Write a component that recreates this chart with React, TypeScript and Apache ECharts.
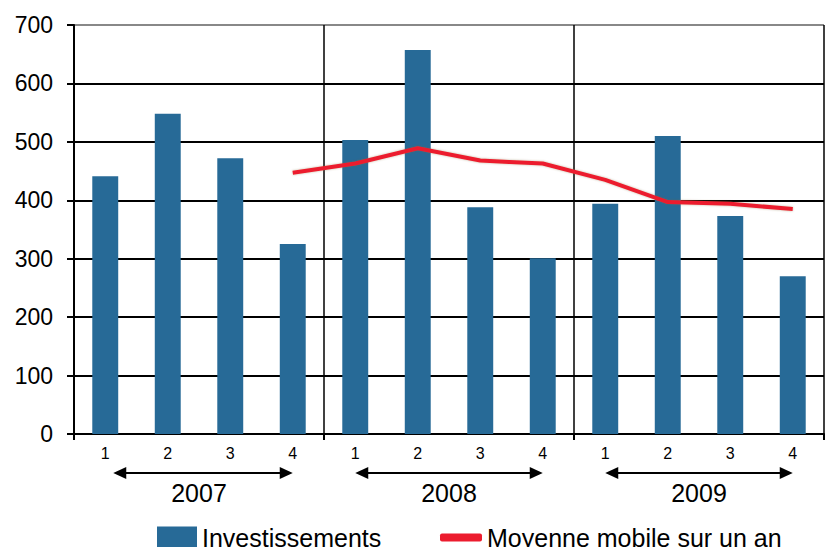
import React, { useEffect, useRef } from "react";
import * as echarts from "echarts";

const quarters = ["1", "2", "3", "4", "1", "2", "3", "4", "1", "2", "3", "4"];
const years = ["2007", "2008", "2009"];
const investissements = [441, 548, 472, 325, 503, 657, 388, 301, 394, 510, 373, 270];
const moyenneMobile = [null, null, null, 447, 463, 489, 468, 463, 435, 397, 394, 385];
const yTicks = { min: 0, max: 700, interval: 100 };

const FONT = "Liberation Sans, Arial, sans-serif";

export default function App() {
  const ref = useRef<HTMLDivElement>(null);
  useEffect(() => {
    const chart = echarts.init(ref.current!, null, { renderer: "svg" });
    const option: any = {
      animation: false,
      textStyle: { fontFamily: FONT, color: "#000" },
      grid: { left: 74, top: 25, right: 1, bottom: 113 },
      xAxis: [
        {
          type: "category",
          data: quarters,
          position: "bottom",
          axisLine: { show: false },
          axisTick: { show: false },
          axisLabel: { fontSize: 16, color: "#000", margin: 11, fontFamily: FONT, interval: 0 },
          splitLine: { show: false },
        },
        {
          type: "category",
          data: years,
          position: "bottom",
          axisLine: { show: true, lineStyle: { color: "#000", width: 2 } },
          axisTick: { show: true, length: 6, lineStyle: { color: "#000", width: 2 } },
          axisLabel: { fontSize: 25, color: "#000", margin: 46, fontFamily: FONT },
          splitLine: { show: true, lineStyle: { color: "#000", width: 1.5 } },
        },
      ],
      yAxis: {
        type: "value",
        min: yTicks.min,
        max: yTicks.max,
        interval: yTicks.interval,
        axisLine: { show: true, lineStyle: { color: "#000", width: 2 } },
        axisTick: { show: true, length: 7, lineStyle: { color: "#000", width: 2 } },
        axisLabel: { fontSize: 23, color: "#000", margin: 21, fontFamily: FONT },
        splitLine: {
          show: true,
          lineStyle: {
            color: ["#000", "#000", "#000", "#000", "#000", "#000", "#000", "#888"],
            width: 1.8,
          },
        },
      },
      legend: [
        {
          data: [{ name: "Investissements", icon: "rect" }],
          left: 157,
          top: 525,
          itemWidth: 40,
          itemHeight: 22,
          itemGap: 5,
          textStyle: { fontSize: 25, color: "#000", fontFamily: FONT },
          padding: 0,
        },
        {
          data: [{ name: "Moyenne mobile sur un an", icon: "roundRect" }],
          left: 440,
          top: 525,
          itemWidth: 42,
          itemHeight: 8,
          textStyle: { fontSize: 25, color: "#000", fontFamily: FONT },
          padding: 0,
        },
      ],
      series: [
        {
          name: "Investissements",
          type: "bar",
          xAxisIndex: 0,
          data: investissements,
          barWidth: "41.5%",
          itemStyle: { color: "#276a97" },
        },
        {
          name: "Moyenne mobile sur un an",
          type: "line",
          xAxisIndex: 0,
          data: moyenneMobile,
          symbol: "none",
          itemStyle: { color: "#ec1c2e" },
          lineStyle: {
            color: "#ec1c2e",
            width: 4,
            shadowColor: "rgba(120,100,60,0.45)",
            shadowBlur: 2,
          },
        },
      ],
    };
    chart.setOption(option);

    // Year range arrows beneath the quarter labels
    const arrowY = 473;
    const graphics: any[] = [];
    for (let g = 0; g < years.length; g++) {
      const x1 = chart.convertToPixel({ xAxisIndex: 0 }, g * 4) as number;
      const x2 = chart.convertToPixel({ xAxisIndex: 0 }, g * 4 + 3) as number;
      const a = g === 0 ? x1 + 8 : x1;
      const b = x2;
      const head = 13;
      const hh = 6;
      graphics.push({
        type: "line",
        shape: { x1: a + head - 1, y1: arrowY, x2: b - head + 1, y2: arrowY },
        style: { stroke: "#000", lineWidth: 2 },
        silent: true,
      });
      graphics.push({
        type: "polygon",
        shape: { points: [[a, arrowY], [a + head, arrowY - hh], [a + head, arrowY + hh]] },
        style: { fill: "#000" },
        silent: true,
      });
      graphics.push({
        type: "polygon",
        shape: { points: [[b, arrowY], [b - head, arrowY - hh], [b - head, arrowY + hh]] },
        style: { fill: "#000" },
        silent: true,
      });
    }
    chart.setOption({ graphic: graphics });

    return () => chart.dispose();
  }, []);
  return (
    <div
      ref={ref}
      style={{ position: "fixed", left: 0, top: 0, width: 825, height: 547, background: "#fff" }}
    />
  );
}
